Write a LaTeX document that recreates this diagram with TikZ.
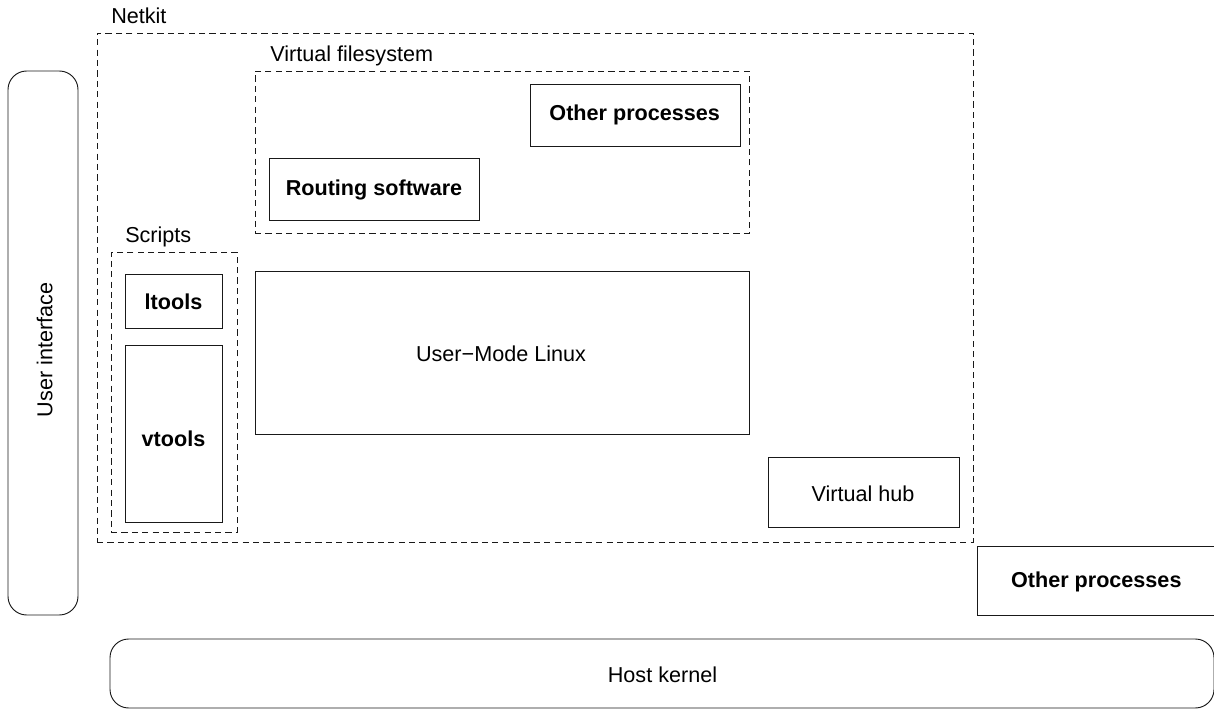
\documentclass[tikz,border=0pt]{standalone}
\usepackage{fontspec}
\setmainfont{Liberation Sans}
\newcommand{\pxbox}[7]{%
  \pgfmathsetmacro{\bw}{(#4-#2)*0.75}\pgfmathsetmacro{\bh}{(#5-#3)*0.75}%
  \node[#6, minimum width=\bw pt, minimum height=\bh pt] (#1) at ({(#2+#4)/2},{(#3+#5)/2}) {#7};}
\newcommand{\tsize}{\fontsize{16.2}{18}\selectfont}
\tikzset{
  x=0.75pt, y=-0.75pt,
  frame/.style={draw=black!90, line width=0.7pt, rectangle, inner sep=0pt},
  dashbox/.style={frame, dash pattern=on 4.6pt off 3.2pt},
  roundbox/.style={frame, rounded corners=14pt},
  plaintext/.style={inner sep=0pt, anchor=base, font=\tsize},
  boldtext/.style={inner sep=0pt, anchor=base, font=\tsize\bfseries},
  caption/.style={plaintext, anchor=base west}
}
\begin{document}
\begin{tikzpicture}
\useasboundingbox (0,0) rectangle (1214,709);
\pxbox{netkit}{97}{33}{973}{542}{dashbox}{}
\pxbox{vfs}{255}{71}{749}{233}{dashbox}{}
\pxbox{scripts}{111}{252}{237}{532}{dashbox}{}
\pxbox{otherin}{530}{84}{740}{146}{frame}{}
\pxbox{routing}{269}{158}{479}{220}{frame}{}
\pxbox{ltools}{125}{274}{222}{328}{frame}{}
\pxbox{vtools}{125}{345}{222}{522}{frame}{}
\pxbox{uml}{255}{271}{749}{434}{frame}{}
\pxbox{hub}{768}{457}{959}{527}{frame}{}
\pxbox{otherout}{977.5}{546}{1216}{615}{frame}{}
\pxbox{host}{110}{639}{1214}{708}{roundbox}{}
\pxbox{ui}{8}{71}{78}{615}{roundbox}{}
\node[boldtext] (otherinlabel) at (634.7,121) {Other processes};
\node[boldtext] (routinglabel) at (374,196) {Routing software};
\node[boldtext] (ltoolslabel) at (173.5,310) {ltools};
\node[boldtext] (vtoolslabel) at (173.5,446.7) {vtools};
\node[plaintext] (umllabel) at (501,361.7) {User−Mode Linux};
\node[plaintext] (hublabel) at (863,501.7) {Virtual hub};
\node[boldtext] (otherlabel) at (1096.3,587.3) {Other processes};
\node[plaintext] (hostlabel) at (662.5,682.7) {Host kernel};
\node[plaintext, rotate=90] (uilabel) at (52.3,350) {User interface};
\node[caption] (netkitlabel) at (111,24) {Netkit};
\node[caption] (vfslabel) at (270,61.7) {Virtual filesystem};
\node[caption] (scriptslabel) at (125,242.7) {Scripts};
\end{tikzpicture}
\end{document}
